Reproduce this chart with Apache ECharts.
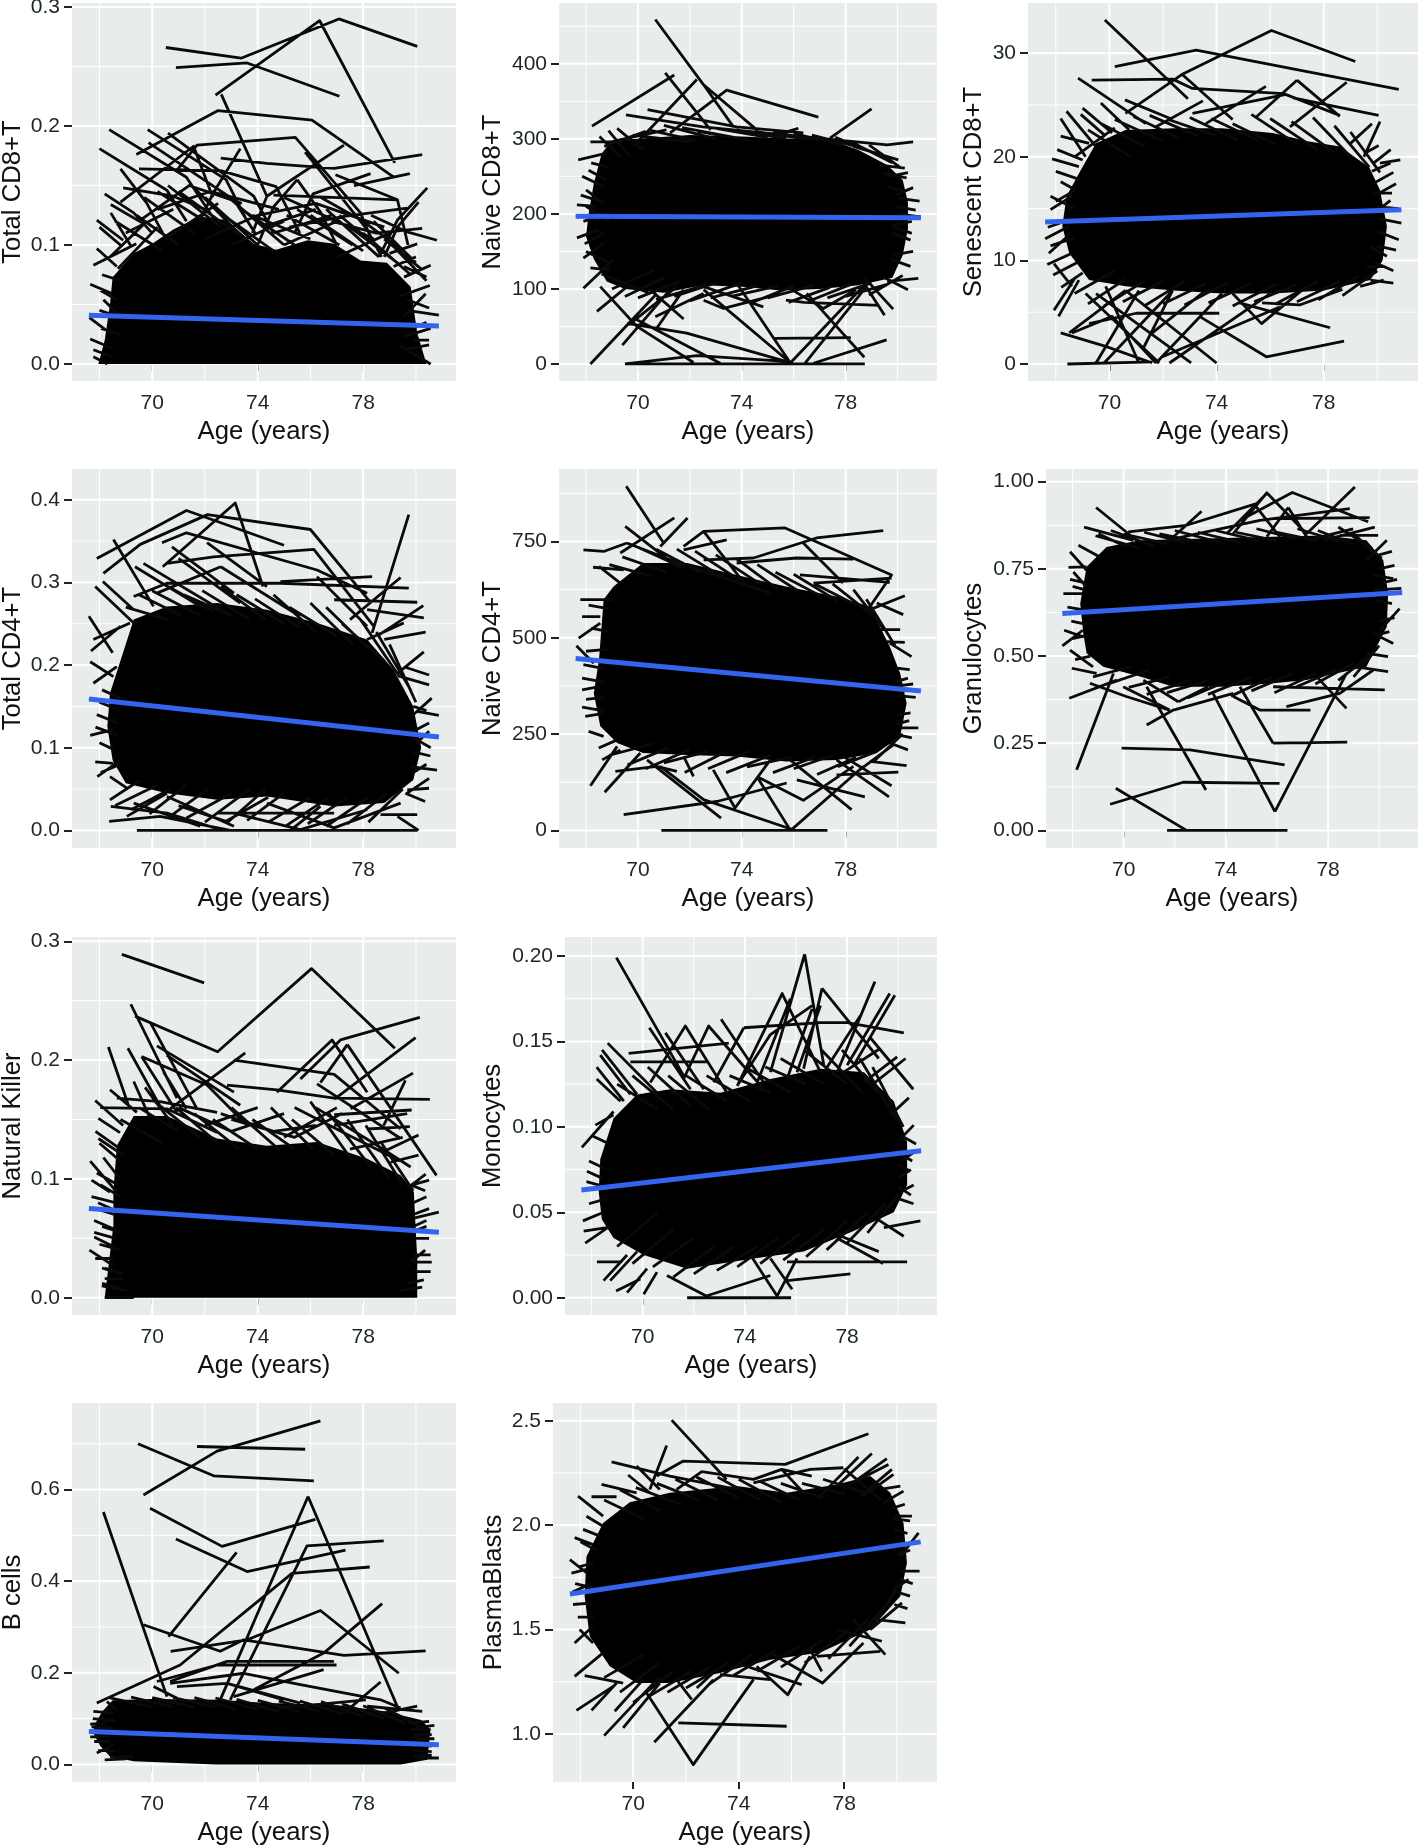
<!DOCTYPE html>
<html>
<head>
<meta charset="utf-8">
<style>
  html, body { margin: 0; padding: 0; background: #fff; }
  #main { width: 1418px; height: 1845px; }
</style>
<script src="https://cdn.jsdelivr.net/npm/echarts@6/dist/echarts.min.js"></script>
</head>
<body>
<div id="main"></div>
<script>
// Where hundreds of lines overlap into solid black single lines can't be read,
// so the *Mass arrays hold the outline of that solid region instead, and the
// *Fringe arrays hold the short line ends estimated around its edge.

var xTicks = [70, 74, 78];
var xMinor = [68, 72, 76, 80];

var totalCD8Ticks = ['0.0', '0.1', '0.2', '0.3'];
var totalCD8Minor = [0.05, 0.15, 0.25];
var totalCD8Trend = [67.6, 0.041, 80.87, 0.032];
var totalCD8Mass = [[67.96,0],[68.2,.02],[68.4,.05],[68.5,.073],[69.3,.093],[70,.101],[70.8,.113],[71.8,.124],[72.8,.121],[73.85,.101],[74.7,.096],[75.9,.104],[76.9,.101],[77.9,.087],[78.9,.085],[79.8,.065],[80.05,.026],[80.4,0]];
var totalCD8Lines = [
  [70.52,.266,73.37,.257,77.08,.29,80.05,.267],[70.9,.249,73.6,.253,77.1,.225],[72.4,.226,76.35,.2885,79.2,.169],[72.62,.2266,74.35,.141],
  [69.4,.176,72.5,.213,76.06,.205,79.16,.157],[68.37,.197,71.3,.157,72.4,.12],[69.83,.197,72.8,.155,73.6,.12],[70.6,.194,73.85,.141,74.6,.11],[69.86,.186,73.1,.138,73.9,.11],
  [68,.181,70.56,.146,71.3,.12],[70.94,.163,71.7,.184,75.43,.1905,77.9,.127,78.4,.1],[69.5,.164,72.6,.1625,74.7,.149,75.6,.11],[68.8,.164,69.8,.135,70.4,.11],
  [68.8,.136,71.57,.183,72.3,.14],[72.6,.173,74.35,.1686,76.9,.1644,80.24,.176],[73.34,.181,72.3,.143,71.8,.12],[77.27,.184,74.35,.141,73.8,.11],[75.8,.178,78.15,.113,78.7,.09],
  [76.95,.159,79.3,.138,79.7,.1],[78.28,.16,76.1,.143,75.4,.11],[77.65,.15,79.77,.16],[75.5,.155,74.6,.132,74,.1],[75.5,.155,76.4,.127,77,.1],[68.9,.148,70.8,.141,72,.13],
  [80.43,.148,79.3,.121,78.6,.09],[80.1,.136,79.3,.115,78.8,.09],[80.24,.114,78.5,.11,76.8,.12],[80.8,.104,79.67,.111,78.3,.125],[79.67,.131,77.27,.124,75.2,.115],[74.6,.142,79.3,.138],
  [70.2,.13,72.2,.145,74.8,.13],[69.5,.12,71.4,.15,73.4,.135],[75,.14,77,.12,78.4,.105],[74,.125,76.2,.135,78.8,.115],[76.4,.14,78,.12,79.5,.095],
  [68.2,.143,69.3,.127,70,.11],[68.43,.134,69.67,.118],[67.9,.121,68.9,.104],[68,.115,68.85,.099],[68.43,.127,69.2,.099],[67.77,.083,69.4,.101],[67.9,.097,68.66,.082],
  [67.65,.067,68.5,.059],[68.03,.062,68.66,.054],[68.15,.054,68.8,.04],[67.62,.039,68.4,.026],[67.65,.021,68.5,.013],[67.77,.012,68.5,.006],[67.77,.006,68.3,0],
  [80.56,.083,79.55,.073],[80.4,.073,79.55,.082],[80.53,.066,79.4,.057],[80.37,.059,79.55,.04],[80.5,.047,79.67,.054],[80.87,.041,79.67,.045],[80.56,.03,79.55,.023],
  [80.5,.016,79.55,.012],[80.56,0,79.4,.015],[80,.09,79.15,.082],[80.05,.101,79,.093]
];
var totalCD8Fringe = [
  [68.6,.12,70.4,.095],[69,.11,70.8,.13],[69.4,.125,71,.1],[69.7,.14,71.6,.11],[70.2,.145,72,.12],[70.6,.15,72.6,.115],[71,.145,73.2,.11],[71.5,.15,73.5,.105],[72,.14,74,.1],[72.4,.13,74.6,.095],[72.9,.14,75,.1],
  [73.4,.13,75.4,.1],[73.8,.125,76,.105],[74.2,.115,76.2,.13],[74.6,.11,76.8,.125],[75.1,.125,77.1,.1],[75.5,.13,77.6,.1],[76,.125,78,.095],[76.6,.13,78.6,.09],[77.1,.125,79,.09],[77.5,.115,79.3,.085],[78,.11,79.8,.075],
  [78.4,.12,80,.085],[78.8,.105,80.2,.08],[79.1,.1,80.4,.07],[72,.105,74,.125],[70.5,.105,72.5,.135],[73,.1,75,.12],[75,.1,77,.12],[77,.09,79,.11],[68.4,.09,69.8,.12],[68.7,.08,70.2,.115],
  [68.05,.03,68.8,.025],[68,.045,68.7,.04],[68.1,.075,68.8,.07],[80.5,.02,79.9,.02],[80.4,.035,79.9,.03]
];

var naiveCD8Ticks = ['0', '100', '200', '300', '400'];
var naiveCD8Minor = [50, 150, 250, 350, 450];
var naiveCD8Trend = [67.6, 197, 80.9, 195];
var naiveCD8Mass = [[68.1,200],[68.3,240],[68.6,280],[69,298],[70,300],[72,305],[74,303],[76,300],[77.3,300],[78.5,285],[79.6,265],[80.2,245],[80.4,215],[80.4,180],[80.2,145],[79.8,115],[78.5,105],[77,100],[75.5,98],[74,103],[72.5,105],[71,95],[69.5,100],[68.8,110],[68.3,140],[68,170]];
var naiveCD8Lines = [
  [68.23,317,71.4,385],[71.05,388,72.8,312],[70.67,459,72.53,372,74.58,312],[72.27,379,69.83,290],[71.24,308,73.42,365,76.95,329],[72.53,372,73.68,316],
  [70.37,339,73.8,316,76.37,308],[69.54,332,72.5,316,79.6,292,80.6,296],[76.18,314,75.1,303],[79,340,77.4,301],[69.2,314,70.2,285],[68.87,311,69.7,276],[68.52,303,69.32,276],
  [68.17,296,69.07,296],[67.7,272,68.8,281],[80.03,272,78.3,290],[80.28,261,79.3,265],[80.35,248,79.45,254],[80.3,230,79.6,236],[80.85,217,80,221],[80.55,174,79.83,183],
  [80.8,114,79.6,110],[80.4,99,79.45,116],[79.83,73,78.7,116],[79.5,65,78.7,108],[75.73,103,77.14,74,78.4,99],
  [67.85,250,68.7,236],[68,232,68.5,219],[67.65,212,68.4,210],[67.65,168,68.5,179],[67.9,141,68.7,161],[68.17,128,68.94,125],[67.9,101,69.06,139],[68.42,70,69.58,103],
  [68.55,103,69.96,50,72.14,2],[68.17,0,70.73,94],[69.4,25,71.24,99],[69.64,52,71.5,103],[69.58,54,71.88,41,75.73,3],[70.67,63,72.53,94],[70.73,48,71.76,99],[71.76,60,70.47,99],
  [69.96,59,73.17,1],[69.5,0,72.27,11,75.86,3],[69.58,0,78.74,0],[75.28,34,78.2,35],[72.53,99,75.86,2],[73.8,108,75.86,2],[75.86,1,78.8,108],[76.44,1,78.8,103],[76.76,1,79.58,32],
  [78.72,9,76.5,94],[74.83,76,72.53,103],[72.53,85,73.3,74,75.1,90],[75.7,85,76.4,82,79.3,78]
];
var naiveCD8Fringe = [
  [68.7,290,70.3,310],[69.2,298,71.1,312],[69.8,305,72,296],[70.4,312,72.2,298],[71,318,73,300],[71.7,315,73.7,302],[72.3,310,74.3,298],[73,314,75,302],[73.8,312,75.7,300],[74.5,310,76.4,300],[75.2,309,77,298],[76,307,77.9,292],[76.7,305,78.4,290],[77.6,302,79.2,280],[78.2,296,79.8,268],[78.9,292,80.1,262],
  [68.6,120,70.4,95],[69,100,70.6,125],[69.5,90,71,115],[70,88,71.6,110],[70.7,86,72.6,105],[71.4,90,73,108],[72,84,74,108],[72.8,88,74.6,104],[73.6,90,75.4,104],[74.4,82,76,104],[75,88,76.8,105],[75.8,82,77.4,102],[76.6,84,78.2,106],[77.3,88,79,108],[78,90,79.6,106],[78.9,92,80.2,118],
  [67.9,190,68.8,200],[68,210,68.9,190],[67.8,225,68.7,215],[68.1,258,68.8,245],[67.95,160,68.7,175],[68,150,68.9,135],[68.2,268,68.9,262],[80.9,196,80,200],[80.6,235,79.9,225],[80.7,205,79.9,210],[80.5,165,79.8,175],[80.6,150,79.8,145],[80.5,130,79.7,140],[80.55,190,79.8,185],[80.4,255,79.7,250]
];

var senescentTicks = ['0', '10', '20', '30'];
var senescentMinor = [5, 15, 25];
var senescentTrend = [67.6, 13.7, 80.9, 14.9];
var senescentMass = [[68.86,18.4],[69.5,21.3],[70.6,22.6],[72.4,22.75],[74.2,22.75],[76.1,22.3],[77.4,21.5],[78.6,21],[79.7,19],[80.1,16.8],[80.36,13.3],[80.2,10],[79.74,8.1],[78,7.1],[76.1,6.8],[74.2,6.8],[72.4,7.1],[70.6,7.5],[69.24,8.1],[68.5,10.7],[68.24,13.3],[68.4,16.2]];
var senescentLines = [
  [69.83,33.2,72.93,25.6],[70.2,28.7,73.24,30.3,80.8,26.5],[70.6,24.2,72.74,28,76.05,32.2,79.18,29.2],[69.34,27.4,72.36,27.5,73.1,26.6,76.5,26.1,78.6,24],[68.83,27.6,71.36,23.2],
  [72.74,27.9,74.6,23.6],[77,27.4,75.5,23.9],[77,27.4,78.6,23.9],[75.84,26.8,73.6,23.2],[78.86,27.2,76.74,22.9],[76.86,25.7,80.05,24],[73.49,25.4,71.74,22.9],[76.55,26,73.1,24.2],
  [70.58,25.5,72.36,23.6],[69.68,25.2,70.74,22.6],[69,24.7,70.1,22.3],[68.93,24.1,69.86,22],[68.4,24.4,69.49,21],[68.18,23.7,69.11,20],[68.18,22,69.24,21.3],[68.05,20.7,69,19.7],
  [67.86,19.8,68.86,19.05],[68.18,17.6,68.74,16.8],[68,15.7,68.74,16.8],[67.8,14.9,68.6,16.2],[67.6,12.1,68.5,13.3],[67.74,10.7,68.55,12.6],[67.68,9.6,68.6,10.7],[67.93,9.7,68.6,7.5],
  [67.93,5.2,68.74,8.4],[68.1,4.6,68.86,8.1],[80.1,23.4,79.5,20],[79.8,23.2,79,21.3],[80.05,21.1,79.5,20.3],[80.5,20.7,79.86,19.4],[80.86,19.7,80.1,19.4],[80.55,16.5,79.86,16.5],
  [80.49,15.8,79.86,14.5],[80.36,10.4,79.74,11.3],[80.3,9.4,79.6,9.4],[80.6,7.8,79.74,8.1],[80.24,8.1,79.36,7.5],
  [68.43,0,71.6,.2],[68.18,3,69.86,1.7,71.6,.1],[68.5,3,70.6,7.1],[69.5,.1,71.1,7.1],[69.8,.1,72.36,7.1],[68.6,3,70.1,4.6,71.74,.1],[69.11,6.8,71.86,.1],[69.86,7.5,71.1,.1],
  [69.5,6.8,73.05,.1],[70.6,7.1,74,.1],[71.74,.1,74.2,6.8],[72.24,.1,76,6.8],[71.98,.7,76.36,5.5],[71.6,3,73.6,7.1],[71.24,1.4,72.36,7.1],[73.36,4.6,75.86,.7,78.76,2.2],
  [74.86,5.9,78.24,3.5],[74.6,6.8,75.68,3.9,77.36,7.5],[75.7,5.9,77.1,5.7,78.7,7.2],[69.24,3.9,71,4.9,74.1,4.9]
];
var senescentFringe = [
  [68.7,20,70.2,22.8],[69.2,22.6,70.8,20],[69.7,23.2,71.3,21],[70.2,23.6,72,21.5],[70.9,23.9,72.6,21.8],[71.5,24,73.3,22],[72.2,23.6,74,22],[73,23.8,74.8,21.6],[73.8,23.7,75.6,21.5],[74.6,23.2,76.2,21.2],[75.3,24.1,77,21.2],[76,23.7,77.8,20.6],[76.8,23.4,78.4,20.4],[77.6,23.8,79,20],[78.4,23,79.7,19],[79,22.4,80.1,18.5],
  [68.7,6.8,70.2,9],[69.2,5.8,70.6,8.2],[69.8,5.6,71.3,8],[70.5,6,72,8],[71.3,5.6,72.8,8],[72,5.8,73.6,7.8],[72.8,5.7,74.4,7.9],[73.7,5.9,75.3,7.8],[74.6,5.6,76.2,7.7],[75.4,6,77,7.7],[76.2,5.8,77.8,8],[77,6,78.6,8],[77.8,6.2,79.3,8.5],[78.7,6.6,80,9],
  [67.8,16.2,68.7,15],[67.7,13.2,68.6,14],[67.8,11.4,68.7,12.2],[68,18.6,68.9,17.8],[67.9,8.6,68.8,9.8],[68.2,7.4,69,8.8],[80.9,13.6,80.1,14],[80.8,12,80,12.8],[80.7,17.4,80,16.4],[80.6,18.5,79.9,17.5],[80.7,11,80,11.4],[80.8,15,80,15.2],[80.6,9,79.9,9.8],[80.5,19.4,79.8,18.6]
];

var totalCD4Ticks = ['0.0', '0.1', '0.2', '0.3', '0.4'];
var totalCD4Minor = [0.05, 0.15, 0.25, 0.35];
var totalCD4Trend = [67.6, 0.159, 80.87, 0.113];
var totalCD4Mass = [[68.4,.166],[69.3,.255],[70.56,.271],[72.46,.275],[74.35,.267],[76.25,.251],[78.15,.231],[79.16,.194],[79.9,.15],[80.2,.1],[79.9,.061],[78.8,.033],[76.9,.029],[74.35,.041],[72.46,.037],[70.56,.045],[69,.057],[68.5,.085],[68.3,.126]];
var totalCD4Lines = [
  [67.9,.329,71.3,.387,75,.345],[68.15,.311,69.55,.346,72.1,.382,76,.364,78.3,.275],[70.4,.319,73.15,.396,74.2,.295],[68.53,.352,70.05,.271],[70.37,.348,71.3,.36,76.25,.315,78.15,.287],
  [70.56,.323,72.33,.331,76.13,.34,78.4,.247],[79.73,.382,78.34,.239],[72.08,.348,74.35,.295],[70.75,.343,73.1,.287],[71,.329,73.34,.275],[69.35,.319,71.82,.271],[69.67,.323,72.6,.267],
  [72.6,.319,70.18,.287],[72.6,.319,75.6,.259],[69.3,.283,70.56,.299,74.86,.299,79.73,.293],[74.86,.301,78.34,.307],[76.25,.307,78.15,.247],[79.42,.306,77.5,.255],[80.05,.276,76.9,.279],
  [80.3,.257,78.15,.267],[80.28,.272,78.53,.235],[79.54,.251,78.15,.231],[80.37,.24,78.8,.231],[80.3,.216,79.3,.19],[80.5,.188,79.54,.198],[80.5,.176,79.42,.186],[80.87,.139,80.05,.144],
  [80.56,.1,79.8,.114],[80.8,.073,79.8,.077],[80.5,.063,79.67,.045],[80.5,.051,79.67,.049],[80.05,.019,78.66,.019],[80.1,0,79.3,.017],[69.42,0,80.05,0],[68.37,.011,70.3,.017,72.96,0],
  [68.43,.029,70.56,.021,72.58,.001],[68.4,.037,69.54,.061],[69.04,.017,70.56,.045],[69.3,.033,71.82,.005],[70.56,.041,73.1,.005],[73.1,.021,75.62,.001,78.15,.025],[75.24,0,76.38,.029],
  [72.46,.021,76.9,.021],[74.35,.033,76.9,.003,79.42,.033],[71,.03,72.8,.011,74.4,.04],
  [67.84,.295,69.3,.251],[68.13,.301,69.3,.267],[67.6,.259,68.5,.215],[67.77,.231,69.16,.251],[67.68,.217,68.8,.247],[67.65,.204,68.53,.186],[67.77,.178,68.66,.198],[67.65,.115,68.53,.122],
  [68,.106,68.53,.098],[67.84,.083,68.53,.081],[67.92,.065,68.8,.085],[68.4,.065,69.1,.05]
];
var totalCD4Fringe = [
  [69,.27,70.6,.255],[69.5,.285,71.1,.26],[70,.29,71.8,.26],[70.6,.295,72.3,.265],[71.2,.285,73,.26],[71.9,.29,73.7,.255],[72.6,.295,74.3,.255],[73.2,.285,75,.25],[73.9,.28,75.6,.245],[74.6,.285,76.2,.24],[75.2,.27,77,.235],[76,.275,77.6,.225],[76.6,.27,78.2,.22],[77.2,.25,78.8,.205],[77.9,.255,79.4,.185],[78.5,.24,79.8,.17],[79,.225,80,.155],
  [68.6,.03,70.2,.055],[69.2,.025,70.7,.05],[69.9,.02,71.3,.055],[70.6,.015,72.1,.05],[71.3,.015,73,.045],[72,.01,73.7,.05],[72.8,.008,74.3,.05],[73.6,.012,75,.045],[74.4,.01,76,.04],[75.1,.006,76.7,.04],[75.9,.008,77.4,.04],[76.6,.005,78.2,.04],[77.4,.008,78.9,.045],[78.2,.01,79.5,.05],
  [68,.155,68.8,.145],[67.9,.14,68.7,.13],[67.85,.125,68.7,.115],[68.1,.17,68.8,.16],[68.05,.07,68.8,.08],[80.6,.16,79.9,.14],[80.5,.13,79.9,.12],[80.55,.09,79.9,.095],[80.4,.145,79.9,.15],[80.5,.12,80,.105],[80.4,.08,79.9,.07],[80.35,.035,79.6,.045]
];

var naiveCD4Ticks = ['0', '250', '500', '750'];
var naiveCD4Minor = [125, 375, 625, 875];
var naiveCD4Trend = [67.6, 446, 80.9, 362];
var naiveCD4Mass = [[68.68,599],[69.06,633],[70.2,694],[71.9,694],[73.8,663],[75.7,633],[77.65,607],[78.94,581],[79.7,477],[80.1,408],[80.35,330],[80.1,244],[79.2,201],[77.65,183],[75.7,179],[73.8,192],[71.9,196],[70.2,201],[69.2,227],[68.55,270],[68.3,356],[68.5,443]];
var naiveCD4Lines = [
  [69.55,893,70.99,746],[69.51,789,71.5,685],[71.4,811,69.32,720],[71.91,811,70.86,737],[67.9,728,68.68,724,69.58,746],[69.58,746,71.24,702,75.1,616],[73.42,754,71.76,728],
  [71.76,737,72.53,776,75.67,785,79.77,663,78.94,581],[72.53,776,74.2,633],[72.53,702,74.45,707,76.88,759,79.45,778],[73.8,694,76.1,707,78.3,704],[76.37,746,77.9,642],[76.24,663,79.7,644],
  [76.76,642,79.77,655],[80.28,609,78.94,573],[80.22,560,79.2,590],[80.1,521,79.3,521],[80.54,451,79.7,486],[80.28,488,79.58,490],[80.47,417,79.96,421],[80.8,266,80.1,266],[80.4,209,79.7,227],
  [80.35,168,78.94,179],[80.03,151,77.65,144],[79.77,116,77.9,192],[79.67,87,77.65,183],[78.74,87,76.12,131],[78.23,54,75.86,183],[74.58,140,76.37,78,78.3,166],[75.92,2,78.68,166],[75.86,2,74.58,140],
  [75.92,3,72.53,80,70.86,166],[73.2,32,70.35,183],[72.9,157,73.74,58,75.1,183],[69.45,41,73.04,75,75.73,123],[70.9,0,77.3,0],[68.72,99,70.09,201],[68.17,116,69.2,218],[69.13,153,70.73,166,71.5,153],[72.14,140,71.76,192],
  [67.78,599,69.06,599],[68.27,683,69.45,676],[68.5,685,69.32,642],[67.85,555,68.55,555],[67.72,499,68.55,538],[67.63,479,68.3,434],[67.85,365,68.55,374],[67.97,296,68.68,304],[68.1,257,68.68,244],[68.49,214,69.2,235],[68.62,183,69.32,209]
];
var naiveCD4Fringe = [
  [68.9,690,70.5,660],[69.4,710,71.1,670],[70,735,71.8,680],[70.7,730,72.4,670],[71.5,730,73.2,660],[72.2,725,73.9,650],[73,715,74.7,640],[73.8,705,75.4,625],[74.6,690,76.2,620],[75.3,670,77,610],[76,665,77.7,595],[76.8,640,78.4,585],[77.5,640,79,560],[78.3,625,79.5,520],[78.8,600,79.9,480],
  [68.9,195,70.6,225],[69.6,170,71.2,215],[70.3,160,72,210],[71,175,72.7,205],[71.8,150,73.4,205],[72.7,160,74.3,205],[73.4,150,75.1,195],[74.2,165,75.9,190],[75.2,150,76.8,190],[76,160,77.5,195],[76.9,145,78.4,190],[77.7,165,79.2,205],[78.5,155,79.9,225],[79.1,180,80.2,250],
  [67.9,430,68.7,420],[67.85,395,68.7,385],[68,340,68.7,345],[67.85,320,68.7,310],[68,465,68.8,470],[68.2,525,68.9,515],[68.1,585,68.9,575],[80.6,380,80,375],[80.7,345,80,350],[80.5,305,80,300],[80.45,285,79.9,275],[80.55,240,79.9,250],[80.4,395,79.9,385],[80.6,365,80,360]
];

var granuloTicks = ['0.00', '0.25', '0.50', '0.75', '1.00'];
var granuloMinor = [0.125, 0.375, 0.625, 0.875];
var granuloTrend = [67.6, 0.622, 80.9, 0.682];
var granuloMass = [[68.42,.565],[68.3,.651],[68.55,.756],[69.33,.813],[70.64,.832],[73.25,.837],[75.85,.842],[77.8,.846],[79.5,.832],[80.16,.775],[80.35,.679],[80.3,.584],[79.5,.469],[77.16,.431],[75.85,.422],[73.9,.412],[71.94,.412],[70.64,.441],[69.2,.469],[68.55,.508]];
var granuloLines = [
  [68.92,.926,70.5,.832],[68.45,.87,70.38,.832],[70.18,.856,72.46,.875,75.2,.937],[73.05,.915,71.8,.832],[71.68,.832,75.33,.889,78.85,.923],[75.6,.966,74.03,.851],[74.29,.851,75.6,.968,77.16,.851],
  [74.55,.889,76.6,.969,79.57,.885],[76.44,.926,75.6,.842],[76.44,.926,77.16,.842],[79.05,.985,77.16,.851],[75.2,.927,76.11,.842],[75.85,.894,79.63,.897],[78.98,.865,77.16,.832],[79.83,.87,77.8,.832],
  [79.96,.846,78.46,.846],[80.3,.832,79.5,.775],[80.55,.722,79.77,.732],[80.87,.694,79.77,.689],[80.8,.636,80.03,.574],[80.55,.536,79.77,.565],[80.35,.498,79.5,.508],[80.35,.455,79.1,.469],[80.22,.403,75.85,.412],
  [78.72,.35,77.55,.441],[74.29,.384,75.33,.345,77.31,.345],[76.37,.355,78.46,.393,79.77,.46],[70.9,.302,71.94,.345,74.29,.393],[71.8,.345,69.98,.412],[72.14,.369,70.77,.431],[72.14,.369,73.3,.412],[68.68,.422,70.1,.384,71.8,.345],
  [67.87,.379,69.73,.431],[68.16,.174,69.6,.45],[67.97,.465,68.94,.45],[67.9,.517,68.8,.469],[67.6,.529,68.4,.574],[67.67,.574,68.42,.555],[67.64,.679,68.42,.679],[68.03,.741,68.55,.698],[67.9,.799,68.55,.746],[67.84,.754,68.55,.756],
  [68.23,.818,69.07,.784],[69.01,.851,70.12,.813],[69.92,.236,72.6,.231,76.3,.188],[69.47,.075,72.33,.138,76.1,.135],[69.69,.121,72.46,0,76.41,0],[71.7,0,72.46,0],[73.22,.116,70.9,.412],[75.92,.054,73.5,.393],[75.92,.054,78.72,.45],
  [75.85,.25,74.55,.412],[75.85,.25,78.75,.253]
];
var granuloFringe = [
  [68.9,.845,70.6,.81],[69.5,.86,71.2,.815],[70,.85,71.8,.82],[70.8,.855,72.4,.825],[71.4,.85,73.1,.825],[72,.86,73.8,.825],[72.9,.855,74.6,.825],[73.6,.86,75.3,.83],[74.4,.855,76,.83],[75.2,.865,76.8,.835],[76,.855,77.6,.83],[76.8,.865,78.4,.83],[77.6,.86,79,.82],[78.4,.87,79.7,.81],[79,.85,80.1,.78],
  [68.8,.44,70.3,.47],[69.4,.42,71,.46],[70.2,.41,71.8,.44],[70.9,.39,72.6,.43],[71.7,.395,73.3,.43],[72.5,.38,74.1,.43],[73.3,.39,75,.44],[74.2,.385,75.8,.44],[75,.4,76.6,.45],[75.9,.395,77.5,.45],[76.7,.41,78.3,.46],[77.5,.42,79,.48],[78.4,.43,79.6,.5],[79,.44,80,.53],
  [67.8,.64,68.6,.63],[67.9,.72,68.5,.71],[67.95,.6,68.6,.59],[68,.55,68.6,.56],[68.1,.49,68.7,.5],[68,.7,68.5,.69],[80.7,.72,80.1,.71],[80.6,.76,80,.75],[80.5,.65,79.9,.66],[80.6,.61,80,.6],[80.5,.8,80,.79],[80.4,.57,79.9,.56]
];

var killerTicks = ['0.0', '0.1', '0.2', '0.3'];
var killerMinor = [0.05, 0.15, 0.25];
var killerTrend = [67.6, 0.075, 80.87, 0.055];
var killerMass = [[68.2,0],[68.53,.061],[68.53,.089],[68.66,.128],[69.3,.153],[70.56,.153],[72.46,.134],[74.35,.128],[76.25,.131],[78.15,.117],[79.42,.103],[79.92,.089],[80.05,.033],[80.05,0]];
var killerLines = [
  [68.85,.289,71.97,.265],[69.35,.237,72.48,.207,76.04,.277,79.2,.21],[69.19,.247,70.94,.168],[69.92,.232,71.7,.159],[68.34,.211,69.1,.162],[69.08,.21,70.43,.156],[69.6,.203,72.08,.179,73.6,.145],[69.6,.203,70.94,.156],
  [70.18,.212,73.1,.173],[70.56,.204,73.34,.162],[69.3,.182,69.92,.151],[69.73,.177,70.8,.145],[70.43,.19,71.3,.159],[73.53,.206,70.68,.159],[73.1,.2,76.9,.188,79.42,.142],[72.84,.179,74.73,.175,76.9,.168,80.53,.167],
  [74.73,.173,76.82,.217,78.15,.173],[75.62,.184,77.14,.217,80.15,.236],[77.4,.213,76.38,.181],[77.4,.213,80.78,.103],[79.99,.219,76.9,.167],[79.89,.189,77.52,.159],[79.6,.183,78.78,.145],[76.25,.18,79.42,.134],
  [79.84,.158,76.9,.154],[79.67,.155,76.9,.145],[79.77,.144,78.15,.142],[80.1,.137,78.78,.123],[80.1,.12,79.04,.114],[67.84,.166,68.9,.145],[68.03,.16,70.56,.159,72.46,.139],[68.66,.168,70.3,.165,72.46,.156],[68.4,.175,69.42,.156],
  [67.96,.151,68.78,.139],[67.96,.134,68.9,.12],[67.65,.115,68.66,.089],[68.15,.118,68.78,.1],[67.7,.099,68.4,.089],[67.8,.065,68.53,.058],[67.8,.051,68.53,.043],[67.62,.04,68.53,.027],[67.84,.033,68.53,.033],
  [68.2,.016,68.9,.016],[68.09,.01,69.04,.006],[68.2,0,69.3,0],[80.37,.104,79.67,.092],[80.5,.099,79.86,.095],[80.87,.072,79.92,.067],[80.56,.036,79.92,.036],[80.56,.022,79.92,.022],[80.24,.009,79.42,.006],[80.4,.06,79.8,.055],
  [71,.16,73,.14,75,.155],[73,.15,75.4,.135,77.2,.155],[75.4,.16,77.6,.135,79.4,.115],[72.6,.155,74.6,.14,76.2,.145],[76.2,.16,78.4,.13,79.8,.11]
];
var killerFringe = [
  [68.8,.15,70.4,.13],[69.5,.16,71,.14],[70.1,.165,71.8,.135],[70.9,.16,72.5,.13],[71.6,.155,73.3,.125],[72.3,.15,74,.125],[73,.16,74.8,.125],[73.8,.15,75.4,.125],[74.5,.16,76.1,.125],[75.3,.15,76.9,.12],[76,.165,77.6,.115],[76.7,.155,78.3,.11],[77.4,.15,79,.1],[78.1,.145,79.5,.095],[78.7,.13,79.9,.09],[72,.145,74,.16],[75,.135,77,.16],[77.5,.125,79.5,.135],
  [67.85,.14,68.8,.125],[67.9,.105,68.7,.095],[67.7,.085,68.6,.08],[67.85,.075,68.6,.07],[67.8,.055,68.6,.05],[68.2,.025,68.9,.02],[80.4,.085,79.9,.08],[80.5,.075,79.9,.07],[80.5,.05,79.9,.05],[80.35,.04,79.8,.03],[80.4,.065,79.9,.06],[80.6,.03,79.9,.03],[80.3,.015,79.7,.012],[80.35,.09,79.8,.095],
  [68,.13,68.8,.115],[68.05,.095,68.8,.085],[67.95,.08,68.75,.072],[68.1,.06,68.8,.055],[68,.045,68.8,.04],[68.1,.025,68.8,.02],[68.1,.012,68.8,.008]
];

var monoTicks = ['0.00', '0.05', '0.10', '0.15', '0.20'];
var monoMinor = [0.025, 0.075, 0.125, 0.175];
var monoTrend = [67.6, 0.063, 80.9, 0.086];
var monoMass = [[68.28,.062],[68.34,.081],[68.86,.105],[69.78,.119],[71.08,.122],[73.04,.12],[75,.128],[76.96,.134],[78.66,.132],[79.83,.115],[80.35,.091],[80.35,.066],[79.83,.05],[78.26,.039],[76.3,.027],[74.35,.023],[71.74,.017],[70.04,.025],[68.86,.035],[68.4,.046]];
var monoLines = [
  [68.97,.199,71.6,.13],[67.62,.088,68.86,.109],[68.63,.149,70.56,.12],[68.41,.145,69.78,.119],[68.34,.142,69.52,.119],[68.2,.135,69.26,.115],[68.2,.128,69.13,.115],[69.45,.143,73.37,.149],[69.52,.138,72.52,.138],
  [70.26,.158,71.87,.122],[70.89,.155,72.39,.122],[70.3,.126,71.67,.159,73.3,.12],[71.6,.128,72.58,.159,74.74,.122],[73.07,.163,74.74,.126],[73.96,.158,76.96,.161,78,.161,80.22,.155],[72.78,.126,73.96,.158],
  [73.7,.124,75.46,.178,76.96,.132],[75.78,.175,74.48,.126],[76.34,.201,75,.132],[76.34,.201,77.09,.136],[76.63,.171,75,.154,73.7,.124],[76.63,.169,75.65,.128],[77.02,.181,76.3,.134],[77.02,.181,79.24,.14],[76.96,.171,76.04,.132],
  [79.09,.185,77.61,.132],[78.52,.165,77.09,.132],[79.67,.178,78,.136],[79.87,.177,78.26,.136],[80.59,.122,78.92,.152],[80.29,.14,78.92,.124],[79.96,.141,78.66,.126],[79.31,.146,77.87,.132],[80.42,.117,79.7,.107],[80.61,.101,80.09,.093],
  [80.48,.074,79.96,.078],[80.61,.066,80.09,.062],[80.87,.045,79.44,.041],[80.22,.036,79.18,.046],[80.35,.021,78.26,.021,75.65,.021],[79.41,.02,77.6,.035],[79.24,.027,77.6,.037],[78.13,.014,75.65,.01],[75.85,.005,75,.023],
  [75.26,.001,74.22,.025],[75.26,.001,76.04,.023],[71.74,0,75.81,0],[70.95,.013,72.49,.001,75,.013],[70.04,.002,70.56,.015],[68.96,.004,69.91,.011],[69.39,.003,70.17,.017],[68.47,.01,69.39,.025],[68.73,.01,69.78,.027],
  [68.21,.021,69.13,.021],[67.75,.032,68.73,.042],[67.69,.039,68.6,.041],[67.66,.045,68.47,.05],[67.82,.074,68.41,.07],[68.15,.101,68.86,.107]
];
var monoFringe = [
  [69,.125,70.6,.11],[69.6,.13,71.2,.11],[70.2,.135,71.9,.112],[71,.13,72.6,.11],[71.7,.13,73.3,.115],[72.5,.13,74.2,.115],[73.4,.13,75,.12],[74,.135,75.8,.12],[74.8,.135,76.4,.125],[75.4,.14,77.1,.125],[76.3,.145,78,.125],[77,.145,78.6,.12],[77.8,.145,79.2,.12],[78.5,.14,79.9,.105],[79,.135,80.2,.1],
  [69,.03,70.6,.05],[69.6,.02,71.2,.04],[70.4,.018,72,.035],[71.2,.012,72.8,.03],[72,.014,73.6,.03],[72.9,.016,74.5,.03],[73.7,.018,75.3,.035],[74.6,.02,76.2,.038],[75.5,.022,77.1,.04],[76.4,.024,78,.045],[77.2,.028,78.8,.05],[78,.032,79.5,.055],[78.8,.038,80,.06],
  [67.9,.08,68.6,.075],[67.8,.068,68.5,.065],[67.9,.055,68.6,.058],[68,.095,68.7,.09],[80.6,.085,80.1,.08],[80.7,.09,80.1,.095],[80.5,.06,80,.065],[80.6,.055,80,.058],[80.5,.075,80,.07],[80.55,.08,80,.085]
];

var bCellTicks = ['0.0', '0.2', '0.4', '0.6'];
var bCellMinor = [0.1, 0.3, 0.5, 0.7];
var bCellTrend = [67.6, 0.072, 80.87, 0.043];
var bCellMass = [[67.85,.09],[68.1,.115],[68.5,.14],[70,.143],[72.5,.141],[74.35,.134],[76.9,.13],[78.8,.116],[80.2,.097],[80.55,.076],[80.5,.047],[80.43,.01],[79.42,0],[72.4,0],[69.3,.007],[68.4,.017],[68.03,.04],[67.75,.07]];
var bCellLines = [
  [69.46,.7,72.33,.63,76.13,.619],[69.67,.588,72.46,.684,76.38,.75],[71.7,.694,75.8,.688],[69.92,.559,72.65,.476,76.19,.535],[70.9,.492,73.6,.421,77.33,.468],[68.15,.551,70.56,.148],[73.2,.463,70.62,.279],
  [75.91,.585,72.58,.141],[75.91,.585,79.29,.127],[78.78,.488,75.87,.477,72.96,.141],[78.25,.431,75.3,.417,73.6,.337,71.06,.217,67.9,.134],[69.67,.305,72.58,.247,73.47,.272,77.27,.238,80.37,.248],
  [70.7,.247,73.6,.272,76.38,.336,79.35,.199],[78.72,.351,76.5,.243,73.85,.163],[70.18,.181,72.46,.217,76.99,.217],[70.68,.181,72.84,.225,76.89,.225],[70.68,.177,73.47,.199,75.62,.174,78.66,.141,79.42,.123],
  [70.05,.17,71.06,.141],[70.94,.17,72.84,.177,74.99,.141],[72.84,.177,75.62,.134],[78.66,.18,77.27,.112],[73.09,.148,76.5,.207],[80.05,.127,78.78,.112],[80.24,.116,78.15,.127],[74.8,.123,78.1,.141],[68.28,.137,68.66,.119],
  [67.77,.116,68.53,.112],[67.65,.088,68.28,.09],[67.9,.025,68.53,.043],[68.4,.017,69.3,.017],[80.5,.094,79.8,.09],[80.56,.076,79.8,.076],[80.87,.014,80.05,.014],[80.43,.047,79.8,.04]
];
var bCellFringe = [
  [68.4,.145,70,.125],[69.2,.147,70.8,.125],[70,.146,71.6,.125],[70.8,.146,72.4,.125],[71.6,.146,73.2,.12],[72.4,.145,74,.12],[73.2,.142,74.8,.115],[74,.14,75.6,.115],[74.8,.138,76.4,.115],[75.6,.138,77.2,.11],[76.4,.137,78,.105],[77.2,.132,78.8,.1],[78,.128,79.6,.09],[78.8,.123,80.1,.085],
  [67.75,.1,68.6,.095],[67.7,.082,68.5,.08],[67.65,.06,68.4,.06],[67.8,.05,68.4,.05],[67.95,.03,68.6,.03],[68.2,.01,69,.012],[80.7,.085,80,.08],[80.6,.065,79.9,.065],[80.7,.056,80,.056],[80.6,.04,79.9,.045],[80.6,.028,79.9,.03],[80.6,.02,79.9,.02],[80.5,.068,79.9,.06]
];

var plasmaTicks = ['1.0', '1.5', '2.0', '2.5'];
var plasmaMinor = [0.75, 1.25, 1.75, 2.25];
var plasmaTrend = [67.6, 1.67, 80.9, 1.92];
var plasmaMass = [[68.16,1.66],[68.23,1.85],[68.86,2.01],[69.87,2.11],[71.39,2.155],[73.92,2.187],[75.82,2.155],[77.72,2.195],[78.99,2.235],[79.75,2.155],[80.25,2.01],[80.38,1.82],[80.13,1.66],[78.99,1.5],[77.09,1.39],[75.19,1.356],[73.29,1.292],[71.39,1.244],[70.13,1.244],[69.11,1.324],[68.35,1.468]];
var plasmaLines = [
  [71.46,2.503,73.54,2.219],[71.27,2.382,70.63,2.171],[69.18,2.303,71.39,2.235],[70.13,2.283,71.01,2.171],[69.81,2.24,70.63,2.155],[70.89,2.235,71.9,2.307,75.76,2.291,78.92,2.438],[71.65,2.171,72.6,2.256,74.56,2.219,75.63,2.267,76.77,2.235],
  [71.39,2.235,73.92,2.171],[75.63,2.267,76.46,2.155],[74.56,2.203,76.71,2.267,77.97,2.275],[78.54,2.326,77.09,2.139],[79.05,2.343,77.72,2.187],[79.62,2.319,77.97,2.171],[79.68,2.291,78.1,2.187],[79.81,2.267,78.61,2.139],[79.87,2.243,78.73,2.139],
  [80.13,2.187,79.37,2.171],[80.25,2.163,79.49,2.107],[80.57,2.043,79.87,2.043],[80.82,1.963,80.13,1.851],[80.86,1.78,80.13,1.78],[80.44,1.74,79.87,1.69],[80.32,1.532,79.24,1.548],[80.19,1.628,78.99,1.5],[79.56,1.38,78.35,1.548],[79.43,1.444,77.72,1.5],
  [79.37,1.396,76.96,1.372],[75.19,1.388,77.18,1.244,78.73,1.436],[77.15,1.3,76.71,1.404],[76.39,1.236,73.92,1.34],[74.68,1.324,75.86,1.188,76.71,1.372],[73.29,1.284,75.19,1.26],[70.8,.96,73.04,1.26],[70.51,1.196,72.28,.853,74.56,1.26],[71.71,1.053,75.82,1.037],
  [72.41,1.22,73.16,1.308],[72.22,1.165,71.65,1.26],[68.9,.992,71.01,1.276],[69.62,1.029,71.01,1.244],[69.3,1.109,70.38,1.26],[67.85,1.113,69.24,1.228],[68.42,1.113,69.37,1.244],[68.16,1.28,69.62,1.244],[67.78,1.276,68.86,1.388],[67.78,1.436,68.48,1.516],
  [67.97,1.5,68.48,1.436],[67.72,1.62,68.48,1.628],[67.6,1.835,68.23,1.772],[67.66,1.77,68.23,1.788],[67.78,1.94,68.48,1.907],[68.23,2.043,68.86,1.995],[67.91,2.139,68.86,2.043],[68.42,2.136,69.37,2.136],[68.8,2.195,70.13,2.155]
];
var plasmaFringe = [
  [68.9,2.12,70.4,2.03],[69.5,2.17,71,2.07],[70.1,2.18,71.8,2.1],[70.9,2.2,72.5,2.12],[71.6,2.22,73.2,2.12],[72.4,2.23,74,2.13],[73.2,2.23,74.8,2.12],[74,2.22,75.6,2.11],[74.8,2.21,76.3,2.12],[75.6,2.2,77.2,2.13],[76.4,2.2,78,2.15],[77.2,2.22,78.7,2.16],[78,2.27,79.4,2.12],
  [68.9,1.27,70.4,1.38],[69.5,1.2,71,1.34],[70,1.15,71.5,1.3],[70.6,1.18,72.2,1.3],[71.3,1.2,72.9,1.32],[72,1.22,73.6,1.34],[72.9,1.24,74.5,1.38],[73.8,1.28,75.4,1.4],[74.7,1.3,76.3,1.42],[75.6,1.32,77.2,1.45],[76.5,1.34,78,1.48],[77.4,1.36,78.9,1.55],[78.2,1.42,79.6,1.62],[79,1.5,80.1,1.72],
  [67.8,1.72,68.5,1.7],[67.7,1.68,68.4,1.72],[67.9,1.56,68.5,1.56],[68,1.92,68.6,1.88],[67.95,1.8,68.5,1.82],[68.1,1.98,68.7,1.95],[80.5,1.88,80,1.86],[80.6,1.72,80.1,1.74],[80.4,1.96,79.9,1.98],[80.5,2.02,79.9,2.03],[80.5,1.66,80,1.68],[80.3,2.1,79.8,2.08],[80.4,1.6,79.9,1.62]
];

var xRange = [66.96, 81.52];

var panels = [
  { name: 'Total CD8+T', rect: [72, 3, 384, 378], yRange: [-0.0143, 0.3034], gap: 46, ticks: totalCD8Ticks, minor: totalCD8Minor, trend: totalCD8Trend, mass: totalCD8Mass, lines: totalCD8Lines.concat(totalCD8Fringe) },
  { name: 'Naive CD8+T', rect: [559, 3, 378, 378], yRange: [-22.7, 481], gap: 53, ticks: naiveCD8Ticks, minor: naiveCD8Minor, trend: naiveCD8Trend, mass: naiveCD8Mass, lines: naiveCD8Lines.concat(naiveCD8Fringe) },
  { name: 'Senescent CD8+T', rect: [1028, 3, 390, 378], yRange: [-1.64, 34.85], gap: 41, ticks: senescentTicks, minor: senescentMinor, trend: senescentTrend, mass: senescentMass, lines: senescentLines.concat(senescentFringe) },
  { name: 'Total CD4+T', rect: [72, 469, 384, 379], yRange: [-0.0213, 0.4372], gap: 46, ticks: totalCD4Ticks, minor: totalCD4Minor, trend: totalCD4Trend, mass: totalCD4Mass, lines: totalCD4Lines.concat(totalCD4Fringe) },
  { name: 'Naive CD4+T', rect: [559, 469, 378, 379], yRange: [-45.7, 938], gap: 53, ticks: naiveCD4Ticks, minor: naiveCD4Minor, trend: naiveCD4Trend, mass: naiveCD4Mass, lines: naiveCD4Lines.concat(naiveCD4Fringe) },
  { name: 'Granulocytes', rect: [1046, 469, 372, 379], yRange: [-0.0505, 1.0364], gap: 59, ticks: granuloTicks, minor: granuloMinor, trend: granuloTrend, mass: granuloMass, lines: granuloLines.concat(granuloFringe) },
  { name: 'Natural Killer', rect: [72, 937, 384, 378], yRange: [-0.01455, 0.3036], gap: 46, ticks: killerTicks, minor: killerMinor, trend: killerTrend, mass: killerMass, lines: killerLines.concat(killerFringe) },
  { name: 'Monocytes', rect: [565, 937, 372, 378], yRange: [-0.0101, 0.2111], gap: 59, ticks: monoTicks, minor: monoMinor, trend: monoTrend, mass: monoMass, lines: monoLines.concat(monoFringe) },
  { name: 'B cells', rect: [72, 1403, 384, 379], yRange: [-0.0384, 0.789], gap: 46, ticks: bCellTicks, minor: bCellMinor, trend: bCellTrend, mass: bCellMass, lines: bCellLines.concat(bCellFringe) },
  { name: 'PlasmaBlasts', rect: [553, 1403, 384, 379], yRange: [0.77, 2.585], gap: 46, ticks: plasmaTicks, minor: plasmaMinor, trend: plasmaTrend, mass: plasmaMass, lines: plasmaLines.concat(plasmaFringe) }
];

var BREAK = ['-', '-'];

// vertical + horizontal white rules as one broken line
function ruleData(xs, ys, yRange) {
  var out = [];
  xs.forEach(function (x) { out.push([x, yRange[0]], [x, yRange[1]], BREAK); });
  ys.forEach(function (y) { out.push([xRange[0], y], [xRange[1], y], BREAK); });
  return out;
}

function lineData(trajectories) {
  var out = [];
  trajectories.forEach(function (t) {
    for (var i = 0; i < t.length; i += 2) out.push([t[i], t[i + 1]]);
    out.push(BREAK);
  });
  return out;
}

var grids = [], xAxes = [], yAxes = [], series = [];

panels.forEach(function (p, i) {
  var yVals = p.ticks.map(Number);
  grids.push({ left: p.rect[0], top: p.rect[1], width: p.rect[2], height: p.rect[3], show: true, backgroundColor: '#e8ecea', borderWidth: 0, outerBoundsMode: 'none' });
  xAxes.push({
    type: 'value', gridIndex: i, min: xRange[0], max: xRange[1],
    name: 'Age (years)', nameLocation: 'middle', nameGap: 38, nameMoveOverlap: false,
    nameTextStyle: { fontFamily: 'Liberation Sans', fontSize: 25.7, color: '#111' },
    axisLine: { show: false }, splitLine: { show: false },
    axisTick: { show: true, length: 7, customValues: xTicks, lineStyle: { color: '#222', width: 2 } },
    axisLabel: { show: true, customValues: xTicks, margin: 12, fontFamily: 'Liberation Sans', fontSize: 21, color: '#1c2628' }
  });
  yAxes.push({
    type: 'value', gridIndex: i, min: p.yRange[0], max: p.yRange[1],
    name: p.name, nameLocation: 'middle', nameGap: p.gap, nameMoveOverlap: false,
    nameTextStyle: { fontFamily: 'Liberation Sans', fontSize: 25.7, color: '#111' },
    axisLine: { show: false }, splitLine: { show: false },
    axisTick: { show: true, length: 8, customValues: yVals, lineStyle: { color: '#222', width: 2 } },
    axisLabel: {
      show: true, customValues: yVals, margin: 12, fontFamily: 'Liberation Sans', fontSize: 21, color: '#1c2628',
      formatter: function (v) { return p.ticks[yVals.indexOf(v)]; }
    }
  });
  var common = { type: 'line', xAxisIndex: i, yAxisIndex: i, showSymbol: false, symbol: 'none', silent: true, animation: false, connectNulls: false };
  series.push(Object.assign({}, common, { z: 1, data: ruleData(xMinor, p.minor, p.yRange), lineStyle: { color: '#fff', width: 1 } }));
  series.push(Object.assign({}, common, { z: 1, data: ruleData(xTicks, yVals, p.yRange), lineStyle: { color: '#fff', width: 2 } }));
  series.push({
    type: 'custom', xAxisIndex: i, yAxisIndex: i, z: 2, silent: true, animation: false,
    data: p.mass, encode: { x: 0, y: 1 },
    renderItem: function (params, api) {
      if (params.dataIndex > 0) return;
      return { type: 'polygon', shape: { points: p.mass.map(function (m) { return api.coord(m); }) }, style: { fill: '#000' } };
    }
  });
  series.push(Object.assign({}, common, { z: 3, data: lineData(p.lines), lineStyle: { color: '#0a0a0a', width: 2.8, join: 'round' } }));
  series.push(Object.assign({}, common, { z: 4, data: [[p.trend[0], p.trend[1]], [p.trend[2], p.trend[3]]], lineStyle: { color: '#3264ee', width: 5, cap: 'butt' } }));
});

var myChart = echarts.init(document.getElementById('main'), null, { renderer: 'canvas' });
myChart.setOption({ animation: false, grid: grids, xAxis: xAxes, yAxis: yAxes, series: series });
</script>
</body>
</html>
